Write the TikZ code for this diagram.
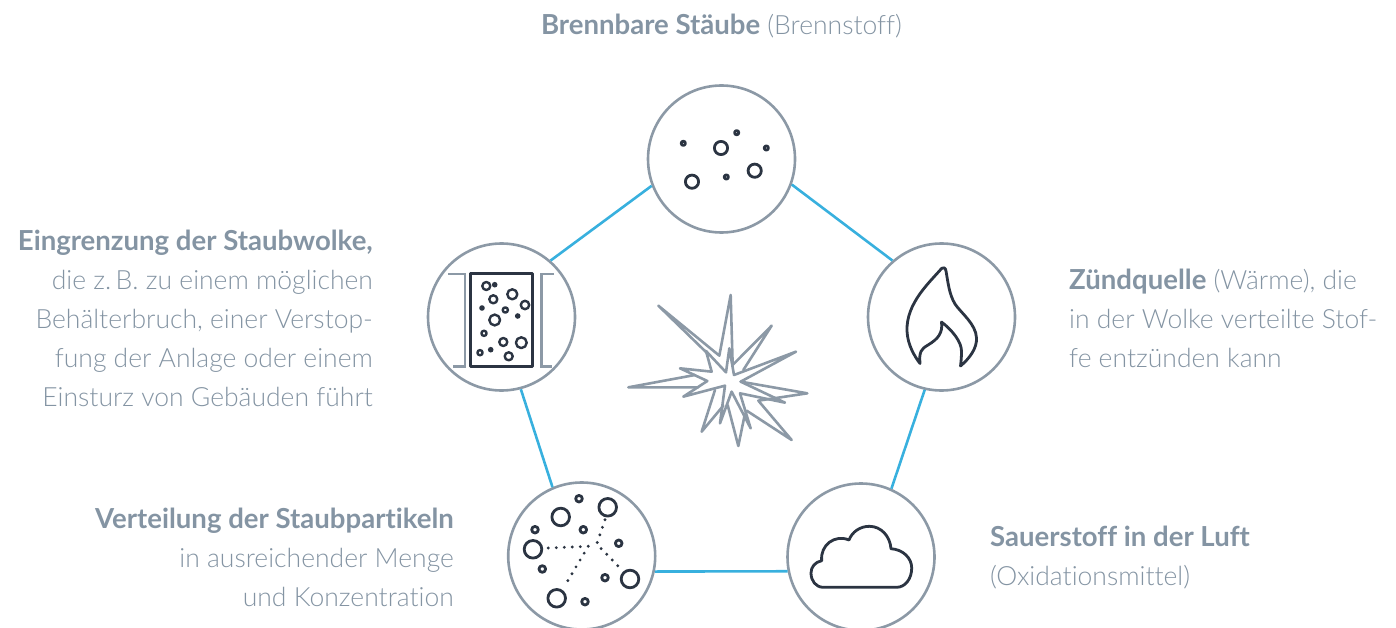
\documentclass[tikz,border=0pt]{standalone}
\usepackage{fontspec}
\setmainfont{Lato}[UprightFont={* Light},BoldFont={* Bold},BoldFeatures={Scale=1.04},RawFeature={-liga}]
\usepackage{tikz}
\usetikzlibrary{positioning}

\definecolor{greyline}{HTML}{8C99A6}
\definecolor{greytext}{HTML}{8494A3}
\definecolor{darkline}{HTML}{2B3442}
\definecolor{blueline}{HTML}{38B0DE}

\tikzset{
    circ/.style={circle, draw=greyline, line width=2.6pt, fill=white, minimum size=147pt, inner sep=0pt},
    link/.style={draw=blueline, line width=2.6pt},
    icon/.style={draw=darkline, line width=2.8pt, line cap=round, line join=round},
    wall/.style={draw=greyline, line width=2.6pt},
    blast/.style={draw=greyline, line width=2.6pt, line cap=round, line join=round},
    dots/.style={draw=darkline, line width=3.2pt, line cap=round, dash pattern=on 0pt off 8pt},
    lblr/.style={align=right, anchor=north east, inner sep=0pt, text=greytext, font=\fontsize{26.5}{39}\selectfont},
    lbll/.style={align=left, anchor=north west, inner sep=0pt, text=greytext, font=\fontsize{26.5}{39}\selectfont},
}

\begin{document}
\begin{tikzpicture}[x=1pt, y=-1pt]
    \useasboundingbox (0, 0) rectangle (1396, 628);
    \clip (0, 0) rectangle (1396, 628);

    \node[circ] (fuel) at (721.5, 159) {};
    \node[circ] (heat) at (941.5, 317) {};
    \node[circ] (oxygen) at (861, 557) {};
    \node[circ] (spread) at (581.7, 556) {};
    \node[circ] (limit) at (501.5, 317) {};
    \draw[link] (fuel.-20) -- (heat.131);
    \draw[link] (heat.-103.5) -- (oxygen.66);
    \draw[link] (oxygen.191.8) -- (spread.-12.6);
    \draw[link] (spread.113.6) -- (limit.-75.8);
    \draw[link] (limit.49) -- (fuel.201);

    % dust
    \foreach \x/\y in {721/148, 692/181.7, 754.7/170.7}
        \draw[icon] (\x, \y) circle (6.6);
    \foreach \x/\y in {683.3/143.3, 736.7/132.7, 766.3/148, 726.3/177}
        \draw[icon] (\x, \y) circle (2.1);

    % container
    \draw[icon] (470.7, 273.3) rectangle (532.3, 366.7);
    \draw[wall] (448.3, 274) -- (465, 274) -- (465, 366.7) -- (453.3, 366.7);
    \draw[wall] (554, 274) -- (541.7, 274) -- (541.7, 366.7) -- (551.7, 366.7);
    \foreach \x/\y/\r in {486.3/286/4, 512.3/294.3/5, 493.3/299.3/4, 525/305/4.2, 505.3/310/2.6,
        494.7/320/5.4, 484/333.3/2.6, 521.3/342.7/5.4, 503.3/342/4, 480/352.7/2.6, 508.7/356.3/4}
        \draw[icon, line width=2.4pt] (\x, \y) circle (\r);
    \foreach \x/\y in {494.7/284.7, 482/308, 517.7/316, 490.7/349.7}
        \fill[darkline] (\x, \y) circle (2.8);

    % flame
    \draw[icon] (941.7, 268.3) .. controls (930, 282) and (906, 303) .. (907, 331)
        .. controls (907.5, 345) and (915, 357) .. (920, 363.5)
        .. controls (919, 352) and (921, 349) .. (928, 345)
        .. controls (938, 339) and (943, 333) .. (941.5, 322)
        .. controls (952, 330) and (962, 342) .. (961.5, 352)
        .. controls (961.5, 357) and (961, 362) .. (960.5, 366)
        .. controls (970, 358) and (977, 348) .. (976.5, 338)
        .. controls (976, 324) and (961, 313) .. (955, 304)
        .. controls (949, 294) and (948, 282) .. (946, 271)
        .. controls (945.5, 268) and (943.5, 266.5) .. (941.7, 268.3) -- cycle;

    % cloud
    \draw[icon] (823.3, 587.3) -- (896.7, 587.3)
        .. controls (905, 587.3) and (911.7, 579) .. (911.7, 568)
        .. controls (911.7, 558) and (903, 549.5) .. (891, 548.7)
        .. controls (890, 536) and (881, 526.3) .. (869.3, 526.3)
        .. controls (860, 526.3) and (852, 532) .. (849, 540)
        .. controls (835, 534) and (820, 545) .. (821.7, 560.7)
        .. controls (815, 562) and (811, 567) .. (811, 573)
        .. controls (811, 581) and (816, 587.3) .. (823.3, 587.3) -- cycle;

    % distribution
    \foreach \x/\y in {607.7/507.3, 560.7/517, 533/549.3, 630/579, 556.7/598.3}
        \draw[icon] (\x, \y) circle (8.8);
    \foreach \x/\y in {579/498.7, 583.3/529.7, 535/529.7, 618.7/543.3, 542.3/569, 605/577.7, 585/601.7}
        \draw[icon] (\x, \y) circle (3.3);
    \coordinate (hub) at (596.7, 544);
    \coordinate (mid) at (588.3, 546.3);
    \coordinate (d1) at (605, 519.7);
    \coordinate (d2) at (620, 568);
    \coordinate (d3) at (548.3, 548);
    \coordinate (d4) at (565, 585.3);
    \draw[dots] (d1) -- (hub) -- (d2);
    \draw[dots] (d3) -- (mid) -- (d4);

    % explosion
    \begin{scope}[shift={(620, 285)}, x=0.3333pt, y=-0.3333pt]
        \draw[blast] (258, 198) -- (318, 262) -- (328, 190) -- (342, 270) -- (528, 200) -- (362, 290)
            -- (495, 353) -- (360, 325) -- (392, 430) -- (335, 320) -- (300, 415) -- (315, 302)
            -- (190, 335) -- (262, 288) -- (180, 250) -- (275, 260) -- cycle;
        \draw[blast] (262, 205) -- (115, 62) -- (298, 212) -- (332, 30) -- (338, 240) -- (455, 122) -- (370, 255);
        \draw[blast] (362, 290) -- (562, 325) -- (415, 347) -- (515, 465) -- (380, 377);
        \draw[blast] (373, 395) -- (355, 483) -- (323, 360);
        \draw[blast] (285, 315) -- (245, 440) -- (310, 362);
        \draw[blast] (225, 270) -- (25, 307) -- (235, 307);
    \end{scope}

    \node[lbll, anchor=north] (tfuel) at (721.5, 14) {\textbf{Brennbare Stäube} (Brennstoff)};
    \node[lblr] (tlimit) at (373, 230) {\textbf{Eingrenzung der Staubwolke,}\\die z.\,B. zu einem möglichen\\Behälterbruch, einer Verstop-\\fung der Anlage oder einem\\Einsturz von Gebäuden führt};
    \node[lbll] (theat) at (1069, 269) {\textbf{Zündquelle} (Wärme), die\\in der Wolke verteilte Stof-\\fe entzünden kann};
    \node[lblr] (tspread) at (454, 508) {\textbf{Verteilung der Staubpartikeln}\\in ausreichender Menge\\und Konzentration};
    \node[lbll] (toxygen) at (990, 526) {\textbf{Sauerstoff in der Luft}\\(Oxidationsmittel)};
\end{tikzpicture}
\end{document}
